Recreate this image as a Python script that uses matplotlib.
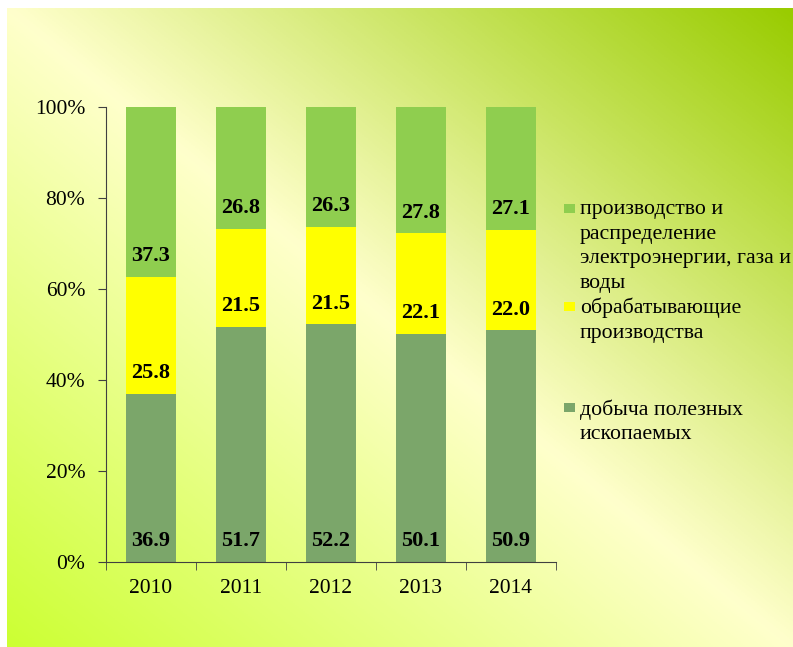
import numpy as np
import matplotlib
matplotlib.use("Agg")
import matplotlib.pyplot as plt
from matplotlib.colors import LinearSegmentedColormap
from matplotlib.patches import Rectangle
from matplotlib.ticker import FuncFormatter

years = ["2010", "2011", "2012", "2013", "2014"]
mining = [36.9, 51.7, 52.2, 50.1, 50.9]
manufacturing = [25.8, 21.5, 21.5, 22.1, 22.0]
utilities = [37.3, 26.8, 26.3, 27.8, 27.1]

names = ["добыча полезных\nископаемых",
         "обрабатывающие\nпроизводства",
         "производство и\nраспределение\nэлектроэнергии, газа и\nводы"]
colors = ["#7BA66A", "#FFFF00", "#8FCE4F"]

plt.rcParams['font.family'] = ['Liberation Serif', 'DejaVu Serif']

W, H = 793, 647
fig = plt.figure(figsize=(W / 100, H / 100), dpi=100)
fig.patch.set_facecolor("white")

# background gradient
bg = fig.add_axes([7 / W, 0, (W - 7) / W, (H - 8) / H])
u, v = np.meshgrid(np.linspace(0, 1, 400), np.linspace(0, 1, 400))
t = (u - v + 1) / 2
cmap = LinearSegmentedColormap.from_list("bg", [(0, "#CCFF33"), (0.5, "#FFFFCC"), (1, "#99CC00")])
bg.imshow(t, cmap=cmap, aspect="auto", extent=[0, 1, 0, 1], origin="upper", vmin=0, vmax=1)
bg.axis("off")

ax = fig.add_axes([106 / W, 85 / H, 450 / W, 455 / H])
ax.set_facecolor("none")

x = np.arange(len(years))
series = [mining, manufacturing, utilities]
bottom = np.zeros(len(years))
for vals, c in zip(series, colors):
    vals = np.array(vals)
    ax.bar(x, vals, 0.556, bottom=bottom, color=c, edgecolor="none")
    for xi, b, val in zip(x, bottom, vals):
        ax.annotate(f"{val:.1f}", (xi, b), xytext=(0, 15), textcoords="offset points",
                    ha="center", va="center", fontsize=16, fontweight="bold", color="black")
    bottom = bottom + vals

ax.set_xlim(-0.5, len(years) - 0.5)
ax.set_ylim(0, 100)
ax.set_yticks(np.arange(0, 101, 20))
ax.yaxis.set_major_formatter(FuncFormatter(lambda val, p: f"{val:.0f}%"))
ax.set_xticks(x)
ax.set_xticklabels(years)
ax.set_xticks(np.arange(-0.5, len(years)), minor=True)
ax.tick_params(axis="x", which="major", length=0, pad=12, labelsize=15.5)
ax.tick_params(axis="x", which="minor", length=6, color="#404040")
ax.tick_params(axis="y", length=6, pad=9, labelsize=15.5, color="#404040")
for s in ["top", "right"]:
    ax.spines[s].set_visible(False)
for s in ["left", "bottom"]:
    ax.spines[s].set_color("#404040")

# legend, top entry first
leg_y = [209, 307, 408]
for name, c, yy in zip(names[::-1], colors[::-1], leg_y):
    fig.patches.append(Rectangle((564 / W, 1 - (yy + 4) / H), 11 / W, 9 / H,
                                 transform=fig.transFigure, facecolor=c, edgecolor="none"))
    fig.text(580 / W, 1 - (yy - 9) / H, name, ha="left", va="top", fontsize=15.7,
             linespacing=1.4, color="black")

fig.savefig("out.png", dpi=100)
